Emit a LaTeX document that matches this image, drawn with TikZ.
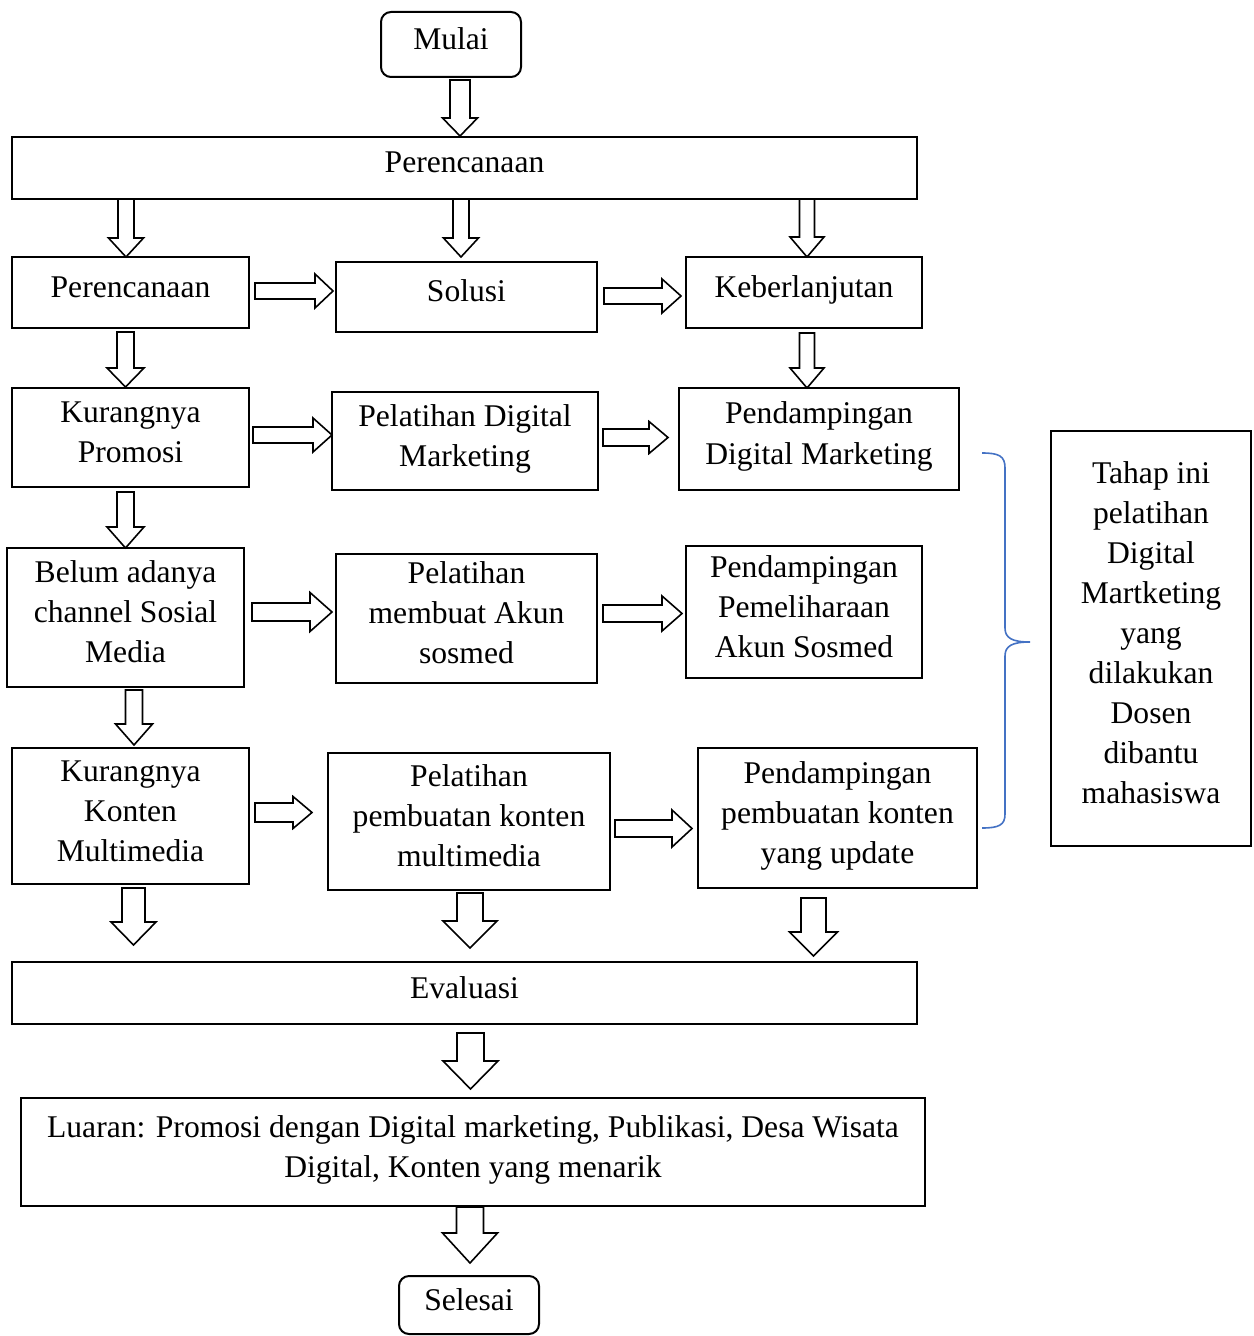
\documentclass[tikz,border=0pt]{standalone}
\usepackage{fontspec}
\setmainfont{Liberation Serif}
\usetikzlibrary{calc}
\definecolor{braceblue}{HTML}{4472C4}
\newcommand{\tx}[1]{\raisebox{1.5pt}[\height][\depth]{\begin{tabular}{@{}c@{}}#1\end{tabular}}}
% down block arrow: from node #1 to node #2 at x=#3 px, gaps #4,#5 px, shaft width #6, head width #7, head length #8 (px)
\newcommand{\bdown}[8]{%
 \draw[ba] let \p1=(#1.south), \p2=(#2.north), \p3=(#3,0) in
  ({\x3-#6*0.25pt},{\y1-#4*0.5pt}) -- ({\x3-#6*0.25pt},{\y2+(#5+#8)*0.5pt})
  -- ({\x3-#7*0.25pt},{\y2+(#5+#8)*0.5pt}) -- (\x3,{\y2+#5*0.5pt})
  -- ({\x3+#7*0.25pt},{\y2+(#5+#8)*0.5pt}) -- ({\x3+#6*0.25pt},{\y2+(#5+#8)*0.5pt})
  -- ({\x3+#6*0.25pt},{\y1-#4*0.5pt}) -- cycle;}
% right block arrow: from node #1 to node #2 at y=#3 px
\newcommand{\bright}[8]{%
 \draw[ba] let \p1=(#1.east), \p2=(#2.west), \p3=(0,#3) in
  ({\x1+#4*0.5pt},{\y3+#6*0.25pt}) -- ({\x2-(#5+#8)*0.5pt},{\y3+#6*0.25pt})
  -- ({\x2-(#5+#8)*0.5pt},{\y3+#7*0.25pt}) -- ({\x2-#5*0.5pt},\y3)
  -- ({\x2-(#5+#8)*0.5pt},{\y3-#7*0.25pt}) -- ({\x2-(#5+#8)*0.5pt},{\y3-#6*0.25pt})
  -- ({\x1+#4*0.5pt},{\y3-#6*0.25pt}) -- cycle;}
\begin{document}
\begin{tikzpicture}[x=0.5pt,y=-0.5pt,
  box/.style={draw, line width=1pt, inner sep=0pt, outer sep=0pt, font=\fontsize{15.8}{20}\selectfont},
  rbox/.style={box, rounded corners=5pt},
  ba/.style={draw, line width=0.8pt, fill=white, line join=miter},
  bracestyle/.style={draw=braceblue, line width=0.8pt}]
\useasboundingbox (0,0) rectangle (1253,1336);

\node[rbox, minimum width=70pt, minimum height=32.5pt] (mulai) at (451,44.5) {\tx{Mulai}};
\node[box, minimum width=452.5pt, minimum height=31pt] (plan) at (464.5,168) {\tx{Perencanaan}};

\node[box, minimum width=118.5pt, minimum height=35.5pt] (p1) at (130.5,292.5) {\tx{Perencanaan}};
\node[box, minimum width=130.5pt, minimum height=35pt] (sol) at (466.5,297) {\tx{Solusi}};
\node[box, minimum width=118pt, minimum height=35.5pt] (keb) at (804,292.5) {\tx{Keberlanjutan}};

\node[box, minimum width=118.5pt, minimum height=49.5pt] (kp) at (130.5,437.5) {\tx{Kurangnya\\Promosi}};
\node[box, minimum width=133pt, minimum height=49pt] (pdm) at (465,441) {\tx{Pelatihan Digital\\Marketing}};
\node[box, minimum width=140pt, minimum height=51pt] (pend1) at (819,439) {\tx{Pendampingan\\Digital Marketing}};

\node[box, minimum width=118.5pt, minimum height=69.5pt] (bel) at (125.5,617.5) {\tx{Belum adanya\\channel Sosial\\Media}};
\node[box, minimum width=130.5pt, minimum height=64.5pt] (pma) at (466.5,618.5) {\tx{Pelatihan\\membuat Akun\\sosmed}};
\node[box, minimum width=118pt, minimum height=66pt] (pend2) at (804,612) {\tx{Pendampingan\\Pemeliharaan\\Akun Sosmed}};

\node[box, minimum width=118.5pt, minimum height=68pt] (kkm) at (130.5,816) {\tx{Kurangnya\\Konten\\Multimedia}};
\node[box, minimum width=141pt, minimum height=68.5pt] (ppk) at (469,821.5) {\tx{Pelatihan\\pembuatan konten\\multimedia}};
\node[box, minimum width=139.5pt, minimum height=70pt] (pend3) at (837.5,818) {\tx{Pendampingan\\pembuatan konten\\yang update}};

\node[box, minimum width=452.5pt, minimum height=31pt] (eval) at (464.5,993) {\tx{Evaluasi}};
\node[box, minimum width=452pt, minimum height=54pt] (luaran) at (473,1152) {\tx{Luaran: Promosi dengan Digital marketing, Publikasi, Desa Wisata\\Digital, Konten yang menarik}};
\node[rbox, minimum width=70pt, minimum height=29pt] (selesai) at (469,1305) {\tx{Selesai}};

\node[box, minimum width=100pt, minimum height=207.5pt] (side) at (1151,638.5) {\tx{Tahap ini\\pelatihan\\Digital\\Martketing\\yang\\dilakukan\\Dosen\\dibantu\\mahasiswa}};

% vertical block arrows
\bdown{mulai}{plan}{460}{3}{1}{20}{35}{18}
\bdown{plan}{p1}{126}{0}{0}{16}{35}{19}
\bdown{plan}{sol}{461}{0}{5}{16}{35}{19}
\bdown{plan}{keb}{807}{0}{0}{15}{34}{20}
\bdown{p1}{kp}{125.5}{4}{1}{17}{37}{19}
\bdown{keb}{pend1}{807}{5}{0}{15}{34}{20}
\bdown{kp}{bel}{125.5}{5}{0}{17}{37}{21}
\bdown{bel}{kkm}{134}{3}{3}{17}{37}{21}
\bdown{kkm}{eval}{133.5}{4}{17}{23}{45}{23}
\bdown{ppk}{eval}{470}{3}{14}{26}{54}{27}
\bdown{pend3}{eval}{813.5}{10}{6}{25}{48}{24}
\bdown{eval}{luaran}{470.5}{9}{9}{27}{55}{28}
\bdown{luaran}{selesai}{470}{1}{13}{27}{55}{30}

% horizontal block arrows
\bright{p1}{sol}{291}{6}{3}{16}{34}{18}
\bright{sol}{keb}{296}{7}{5}{16}{34}{19}
\bright{kp}{pdm}{435}{4}{0}{16}{34}{19}
\bright{pdm}{pend1}{437.5}{5}{11}{17}{32}{19}
\bright{bel}{pma}{612}{8}{4}{18}{39}{22}
\bright{pma}{pend2}{613.5}{6}{4}{17}{35}{20}
\bright{kkm}{ppk}{812.5}{6}{16}{19}{32}{19}
\bright{ppk}{pend3}{828.5}{5}{6}{17}{37}{20}

% brace
\draw[bracestyle] (982,453) .. controls (999,453) and (1005,456) .. (1005,468)
  -- (1005,628) .. controls (1005,638) and (1012,642) .. (1030,642)
  .. controls (1012,642) and (1005,646) .. (1005,656)
  -- (1005,814) .. controls (1005,825) and (999,828) .. (982,828);
\end{tikzpicture}
\end{document}
